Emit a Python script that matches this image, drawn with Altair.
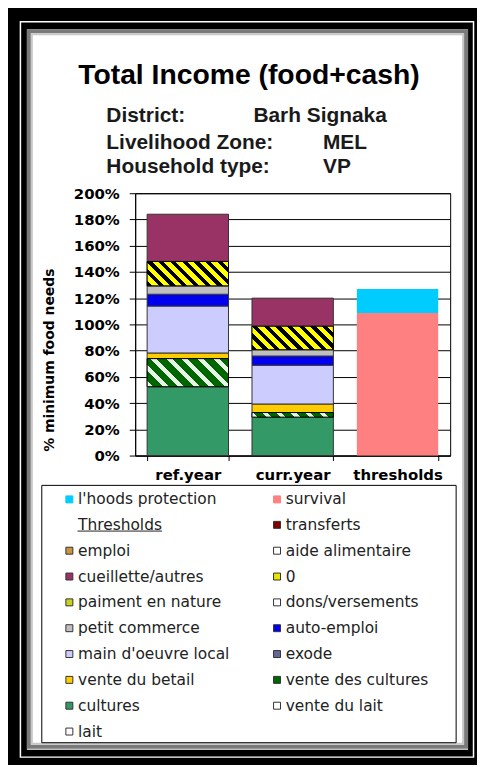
import math
import altair as alt
import pandas as pd

# ---------------- data ----------------
title_text = "Total Income (food+cash)"
info_keys = ["District:", "Livelihood Zone:", "Household type:"]
info_vals = ["Barh Signaka", "MEL", "VP"]
y_title = "% minimum food needs"

categories = ["ref.year", "curr.year", "thresholds"]
income_series = ["cultures", "vente des cultures", "vente du betail", "main d'oeuvre local",
                 "auto-emploi", "petit commerce", "paiment en nature", "cueillette/autres"]
ref_values = [52.5, 21.4, 4.3, 35.8, 9.0, 6.4, 18.6, 36.0]
curr_values = [29.3, 3.5, 6.5, 29.6, 7.0, 4.8, 17.9, 21.4]
threshold_series = ["survival", "l'hoods protection"]
threshold_values = [108.7, 18.2]
hatched_series = ["vente des cultures", "paiment en nature"]

# legend entries in reading order (row by row, two columns)
legend_names = ["l'hoods protection", "survival", "Thresholds", "transferts", "emploi",
                "aide alimentaire", "cueillette/autres", "0", "paiment en nature",
                "dons/versements", "petit commerce", "auto-emploi", "main d'oeuvre local",
                "exode", "vente du betail", "vente des cultures", "cultures",
                "vente du lait", "lait"]
legend_colors = ["#00CCFF", "#FF8080", "#FFFFFF", "#800000", "#C8963C",
                 "#FFFFFF", "#993366", "#E6E600", "#C8D21E",
                 "#FFFFFF", "#C0C0C0", "#0000EE", "#CCCCFF",
                 "#666699", "#FFCC00", "#006600", "#339966",
                 "#FFFFFF", "#FFFFFF"]
legend_strokes = ["#00CCFF", "#FF8080", "transparent", "#333333", "#333333",
                  "#333333", "#333333", "#333333", "#333333",
                  "#333333", "#333333", "#333333", "#333333",
                  "#333333", "#333333", "#333333", "#333333",
                  "#333333", "#333333"]
y_ticks = [0, 20, 40, 60, 80, 100, 120, 140, 160, 180, 200]

# ---------------- layout ----------------
PLOT_W, PLOT_H = 317, 264
SVG_W, SVG_H = 472, 757
PAD = {"left": 128, "top": 184, "right": SVG_W - 128 - PLOT_W, "bottom": SVG_H - 184 - PLOT_H}
P_IN, P_OUT = 0.224, 0.114
OX, OY = 136, 192  # page position of plot origin


def px(v):
    return v - OX


def py(v):
    return v - OY


# Vega fills legend columns top to bottom: reorder reading order accordingly
def col_major(lst):
    return lst[0::2] + lst[1::2]


dom_names = col_major(legend_names)
dom_colors = col_major(legend_colors)
dom_strokes = col_major(legend_strokes)

# ---------------- tables ----------------
rows = []
for cat, vals in ((categories[0], ref_values), (categories[1], curr_values)):
    base = 0.0
    for s, v in zip(income_series, vals):
        rows.append({"category": cat, "series": s, "y0": base, "y1": base + v, "value": v})
        base += v
income = pd.DataFrame(rows)

trows = []
base = 0.0
for s, v in zip(threshold_series, threshold_values):
    trows.append({"category": categories[2], "series": s, "y0": base, "y1": base + v, "value": v})
    base += v
thr = pd.DataFrame(trows)

one = pd.DataFrame({"k": [0]})

# ---------------- encodings ----------------
x_enc = alt.X("category:N", sort=categories,
              scale=alt.Scale(domain=categories, paddingInner=P_IN, paddingOuter=P_OUT),
              axis=alt.Axis(title=None, labelAngle=0, tickBand="extent", tickSize=5,
                            labelPadding=7, labelFont="DejaVu Sans", labelFontSize=15,
                            labelFontWeight="bold", labelColor="black", domainColor="black",
                            tickColor="black", grid=False))
y_scale = alt.Scale(domain=[0, 200], nice=False)
y_enc = alt.Y("y0:Q", scale=y_scale,
              axis=alt.Axis(title=None, values=y_ticks, labelExpr="datum.value + '%'",
                            grid=True, gridColor="black", gridWidth=1, tickSize=6,
                            labelPadding=10, labelFont="DejaVu Sans", labelFontSize=15,
                            labelFontWeight="bold", labelColor="black", domainColor="black",
                            tickColor="black"))


def make_legend():
    return alt.Legend(title=None, orient="none", legendX=-74, legendY=300, columns=2,
                      columnPadding=40, rowPadding=9, symbolType="square", symbolSize=49,
                      symbolStrokeWidth=1,
                      labelFont="DejaVu Sans", labelFontSize=15.5, labelColor="#222222",
                      labelOffset=1, labelLimit=300, padding=0)


color_enc = alt.Color("series:N", scale=alt.Scale(domain=dom_names, range=dom_colors),
                      legend=make_legend())
stroke_enc = alt.Stroke("series:N", scale=alt.Scale(domain=dom_names, range=dom_strokes),
                        legend=make_legend())

# ---------------- frame decoration ----------------
def frame_rect(l, t, r, b, color, width):
    return alt.Chart(one).mark_rect(fillOpacity=0, stroke=color, strokeWidth=width).encode(
        x=alt.value(px(l)), x2=alt.value(px(r)), y=alt.value(py(t)), y2=alt.value(py(b)))


frame_black = frame_rect(7, 7, 491, 772, "black", 40)
frame_line = frame_rect(20.5, 19.5, 476.5, 759.5, "white", 1.5)
bevel1 = frame_rect(29, 29, 469, 749, "#7a7a7a", 4)
bevel2 = frame_rect(32, 32, 466, 746, "#c8c8c8", 2)
legend_box = frame_rect(42, 486, 459, 745, "black", 1)

# ---------------- texts ----------------
title_layer = alt.Chart(pd.DataFrame({"t": [title_text]})).mark_text(
    font="Liberation Sans", fontSize=28.5, fontWeight="bold", color="black",
    align="center", baseline="alphabetic").encode(
    text="t:N", x=alt.value(px(250.5)), y=alt.value(py(82)))

info_layers = []
baselines = [120, 147, 172]
val_x = [255, 325, 325]
for i in range(3):
    info_layers.append(alt.Chart(pd.DataFrame({"t": [info_keys[i]]})).mark_text(
        font="Liberation Sans", fontSize=21, fontWeight="bold", color="#1a1a1a",
        align="left", baseline="alphabetic").encode(
        text="t:N", x=alt.value(px(107)), y=alt.value(py(baselines[i]))))
    info_layers.append(alt.Chart(pd.DataFrame({"t": [info_vals[i]]})).mark_text(
        font="Liberation Sans", fontSize=21, fontWeight="bold", color="#1a1a1a",
        align="left", baseline="alphabetic").encode(
        text="t:N", x=alt.value(px(val_x[i])), y=alt.value(py(baselines[i]))))

ytitle_layer = alt.Chart(pd.DataFrame({"t": [y_title]})).mark_text(
    font="DejaVu Sans", fontSize=14, fontWeight="bold", color="black",
    align="center", baseline="middle", angle=270).encode(
    text="t:N", x=alt.value(px(50)), y=alt.value(py(360)))

underline = alt.Chart(one).mark_rule(color="#222222", strokeWidth=1).encode(
    x=alt.value(px(78)), x2=alt.value(px(163)), y=alt.value(py(532)))

# ---------------- bars ----------------
income_bars = alt.Chart(income).mark_bar(strokeWidth=1).encode(
    x=x_enc, y=y_enc, y2="y1:Q", color=color_enc, stroke=stroke_enc)

bandwidth = PLOT_W * (1 - P_IN) / (len(categories) - P_IN + 2 * P_OUT)
hatch_style = {
    "vente des cultures": ("#006600", "#E8F4E8", 11.0, 0.38),
    "paiment en nature": ("#FFFF00", "#000000", 8.0, 0.45),
}


def hatch(w, h, period, frac, c_bg, c_line):
    k = (w + h) / (w * w + h * h)
    n = max(1, round((w + h) / (math.sqrt(2) * period)))
    stops = []
    for i in range(n):
        a, b, c = i / n, (i + frac) / n, (i + 1) / n
        stops += [(a, c_line), (b, c_line), (b, c_bg), (c, c_bg)]
    return alt.LinearGradient(
        gradient="linear",
        stops=[alt.GradientStop(offset=o, color=col) for o, col in stops],
        x1=0, y1=1, x2=k * w, y2=1 - k * h)


hatch_layers = []
for _, r in income[income["series"].isin(hatched_series)].iterrows():
    bg, line, period, frac = hatch_style[r["series"]]
    h = r["value"] * PLOT_H / 200.0
    grad = hatch(bandwidth, h, period, frac, bg, line)
    sub = income[(income["category"] == r["category"]) & (income["series"] == r["series"])]
    hatch_layers.append(alt.Chart(sub).mark_bar(fill=grad, stroke="black", strokeWidth=1).encode(
        x=x_enc, y=y_enc, y2="y1:Q"))

thr_bars = alt.Chart(thr).mark_bar(strokeWidth=0).encode(
    x=x_enc, y=y_enc, y2="y1:Q", color=color_enc, stroke=stroke_enc)

chart = alt.layer(
    frame_black, frame_line, bevel1, bevel2, legend_box,
    title_layer, *info_layers, ytitle_layer,
    income_bars, *hatch_layers, thr_bars, underline,
).properties(
    width=PLOT_W, height=PLOT_H, padding=PAD,
    autosize=alt.AutoSizeParams(type="none"), background="white",
).configure_view(stroke="black", strokeWidth=1, fill="white")

chart.save("out.html", embed_options={"renderer": "svg", "actions": False})
